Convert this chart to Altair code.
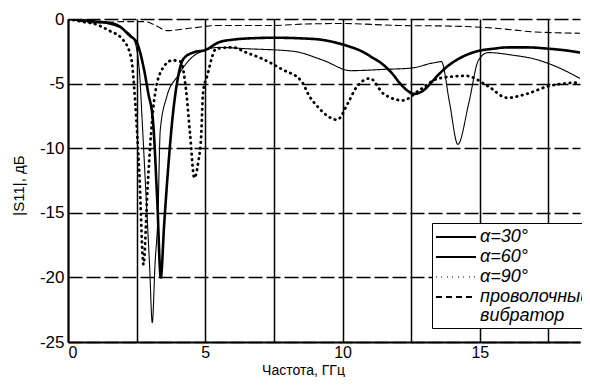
import altair as alt
import pandas as pd

# ---- data ----
names = ["α=30°", "α=60°", "α=90°", "проволочный вибратор"]

f30 = [0, 0.5, 1.0, 1.5, 1.9, 2.25, 2.5, 2.75, 2.92, 3.1, 3.25, 3.38, 3.5, 3.65, 3.8, 4.0, 4.2, 4.55,
       5.0, 5.5, 6.0, 6.6, 7.5, 8.5, 9.2, 9.7, 10.2, 10.7, 11.1, 11.4, 11.8, 12.1, 12.4, 12.6, 12.9,
       13.2, 13.5, 13.8, 14.3, 14.9, 15.5, 16.0, 16.8, 17.5, 18.2, 18.65]
s30 = [0, -0.1, -0.2, -0.3, -0.6, -1.3, -1.8, -3.7, -5.7, -8.0, -14, -20, -16, -11.5, -7.8, -4.6, -3.1, -2.6,
       -2.4, -1.8, -1.6, -1.5, -1.45, -1.5, -1.6, -1.8, -2.1, -2.5, -3.0, -3.4, -4.2, -5.0, -5.6, -5.8, -5.6,
       -5.0, -4.3, -3.7, -3.0, -2.5, -2.3, -2.2, -2.2, -2.3, -2.45, -2.6]

f60 = [0, 0.5, 1.0, 1.5, 2.0, 2.4, 2.6, 2.7, 2.85, 2.97, 3.07, 3.17, 3.28, 3.36, 3.6, 4.0, 4.5, 5.0, 5.5,
       6.5, 8.2, 9.3, 10.3, 11.5, 12.5, 13.3, 13.6, 13.9, 14.2, 14.6, 14.95, 15.3, 16.2, 17.0, 17.8, 18.65]
s60 = [0, -0.05, -0.2, -0.4, -0.8, -1.6, -4.0, -7.8, -14, -19, -23.5, -19, -15, -8.6, -6.0, -4.4, -3.0, -2.4,
       -2.2, -2.3, -2.5, -3.2, -4.0, -3.9, -3.8, -3.4, -3.3, -6.5, -9.7, -6.5, -3.2, -2.6, -2.8, -3.1, -3.7, -4.6]

f90 = [0, 0.5, 1.0, 1.5, 2.0, 2.3, 2.45, 2.6, 2.75, 2.9, 3.1, 3.4, 3.8, 4.1, 4.3, 4.45, 4.6, 4.75, 4.85,
       4.92, 5.07, 5.4, 6.0, 6.5, 7.1, 7.8, 8.5, 8.8, 9.1, 9.45, 9.8, 10.2, 10.5, 11.0, 11.5, 12.2, 12.8,
       13.5, 14.5, 15.3, 16.0, 16.7, 17.5, 18.65]
s90 = [0, -0.2, -0.4, -0.9, -1.6, -3.0, -6.5, -12, -19, -13, -7, -4, -3.2, -3.3, -5.5, -9, -12.3, -11, -9.1,
       -5.7, -4.4, -2.3, -2.2, -2.6, -3.1, -3.9, -4.8, -6.0, -6.8, -7.5, -7.8, -6.5, -5.3, -4.6, -5.8, -6.3, -5.5,
       -4.6, -4.4, -5.2, -6.1, -5.8, -5.2, -4.9]

fw = [0, 1.0, 2.0, 2.8, 3.2, 3.6, 4.5, 5.5, 7.5, 8.5, 10.0, 12.0, 14.0, 15.5, 17.0, 18.65]
sw = [0, -0.3, -0.2, -0.2, -0.5, -0.9, -0.7, -0.5, -0.5, -0.4, -0.35, -0.5, -0.55, -0.7, -1.0, -1.1]

x_ticks = [0, 2.5, 5, 7.5, 10, 12.5, 15, 17.5]
y_ticks = [-25, -20, -15, -10, -5, 0]

rows = []
for name, fs, ss in zip(names, [f30, f60, f90, fw], [s30, s60, s90, sw]):
    for i, (f, s) in enumerate(zip(fs, ss)):
        rows.append({"series": name, "f": f, "s": s, "i": i})
df = pd.DataFrame(rows)

FONT = "Liberation Sans"

leg = alt.Legend(
    title=None,
    orient="none",
    legendX=364,
    legendY=204,
    fillColor="white",
    strokeColor="black",
    padding=3,
    rowPadding=0,
    symbolType="M-2,0H2",
    symbolSize=400,
    symbolOffset=10,
    symbolStrokeColor="black",
    symbolStrokeWidth=2,
    labelOffset=13,
    labelFont=FONT,
    labelColor="black",
    labelLimit=400,
    labelFontSize=18,
    labelFontStyle="italic",
    labelExpr="indexof(datum.label, 'вибратор') >= 0 ? ['проволочный', 'вибратор'] : datum.label + '\u00a0\u00a0\u00a0\u00a0\u00a0\u00a0'",
)

x_enc = alt.X("f:Q",
              scale=alt.Scale(domain=[0, 18.65], nice=False, zero=False),
              axis=alt.Axis(values=x_ticks, title="Частота, ГГц",
                            labelExpr="datum.value % 5 === 0 ? '' + datum.value : ''",
                            grid=True, gridColor="black", gridWidth=1.5, gridOpacity=1,
                            ticks=False, domainColor="black", domainWidth=2,
                            labelFont=FONT, labelFontSize=16, labelColor="black", labelPadding=2,
                            titleFont=FONT, titleFontSize=14, titleFontWeight="normal", titleColor="black",
                            titleX=235, titleY=28, titleBaseline="middle"))
y_enc = alt.Y("s:Q",
              scale=alt.Scale(domain=[-25, 0], nice=False),
              axis=alt.Axis(values=y_ticks, title="|S11|, дБ",
                            labelExpr="'' + datum.value",
                            grid=True, gridColor="black", gridOpacity=1,
                            gridWidth=1.3, gridDash=[14, 4],
                            ticks=False, domainColor="black", domainWidth=2,
                            labelFont=FONT, labelFontSize=17, labelColor="black", labelPadding=4,
                            titleFont=FONT, titleFontSize=15, titleFontWeight="normal", titleColor="black",
                            titleX=-50, titleY=166, titleAlign="center", titleBaseline="middle"))
dash_enc = alt.StrokeDash("series:N",
                          scale=alt.Scale(domain=names, range=[[1, 0], [1, 0], [0.5, 5], [6, 4]]),
                          legend=leg)

widths = [2.6, 1.1, 2.8, 1.1]
layers = []
for name, w in zip(names, widths):
    layers.append(
        alt.Chart(df).transform_filter(alt.datum.series == name)
        .mark_line(clip=True, strokeCap="round", strokeJoin="round", interpolate="monotone",
                   strokeWidth=w, color="black")
        .encode(x=x_enc, y=y_enc, strokeDash=dash_enc, order="i:Q")
    )

chart = alt.layer(*layers).properties(
    width=512,
    height=323,
    autosize=alt.AutoSizeParams(type="none"),
    padding={"left": 60, "top": 11, "right": 2, "bottom": 35},
    background="white",
).configure(style={"guide-label": {"lineHeight": 19}}).configure_view(stroke=None)

chart.save("out.html", embed_options={"renderer": "svg", "actions": False})
